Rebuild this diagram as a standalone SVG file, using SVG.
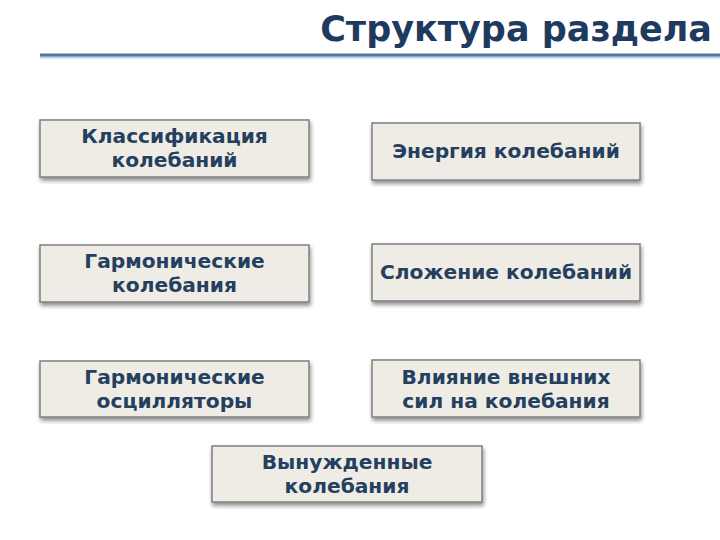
<svg xmlns="http://www.w3.org/2000/svg" width="720" height="540" viewBox="0 0 720 540">
<defs>
<filter id="sh" x="-10%" y="-20%" width="120%" height="150%">
<feGaussianBlur in="SourceAlpha" stdDeviation="2"/>
<feOffset dx="1" dy="3" result="b"/>
<feComponentTransfer><feFuncA type="linear" slope="0.45"/></feComponentTransfer>
<feMerge><feMergeNode/><feMergeNode in="SourceGraphic"/></feMerge>
</filter>
<style>
.box{fill:#EEECE4;stroke:#7F7F7F;stroke-width:1.5;filter:url(#sh)}
.t{font-family:"DejaVu Sans","Liberation Sans",sans-serif;font-weight:bold;font-size:20.2px;fill:#243F60;text-anchor:middle}
.title{font-family:"DejaVu Sans","Liberation Sans",sans-serif;font-weight:bold;font-size:35px;fill:#1F3A5F;text-anchor:end}
</style>
</defs>
<rect width="720" height="540" fill="#ffffff"/>
<g id="title">
<text class="title" x="712" y="41">Структура раздела</text>
<line x1="40" y1="57" x2="720" y2="57" stroke="#C8D4E3" stroke-width="3"/>
<line x1="40" y1="55" x2="720" y2="55" stroke="#4F7BAA" stroke-width="3"/>
</g>
<g id="n1"><rect class="box" x="40" y="120" width="269" height="57"/>
<text class="t" x="174.5" y="143">Классификация</text><text class="t" x="174.5" y="167">колебаний</text></g>
<g id="n2"><rect class="box" x="372" y="123" width="268" height="57"/>
<text class="t" x="506" y="158">Энергия колебаний</text></g>
<g id="n3"><rect class="box" x="40" y="245" width="269" height="57"/>
<text class="t" x="174.5" y="268">Гармонические</text><text class="t" x="174.5" y="292">колебания</text></g>
<g id="n4"><rect class="box" x="372" y="244" width="268" height="57"/>
<text class="t" x="506" y="279">Сложение колебаний</text></g>
<g id="n5"><rect class="box" x="40" y="361" width="269" height="56"/>
<text class="t" x="174.5" y="384">Гармонические</text><text class="t" x="174.5" y="408">осцилляторы</text></g>
<g id="n6"><rect class="box" x="372" y="360" width="268" height="57"/>
<text class="t" x="506" y="384">Влияние внешних</text><text class="t" x="506" y="408">сил на колебания</text></g>
<g id="n7"><rect class="box" x="212" y="446" width="270" height="56"/>
<text class="t" x="347" y="469">Вынужденные</text><text class="t" x="347" y="493">колебания</text></g>
<g id="connectors"/>
</svg>
